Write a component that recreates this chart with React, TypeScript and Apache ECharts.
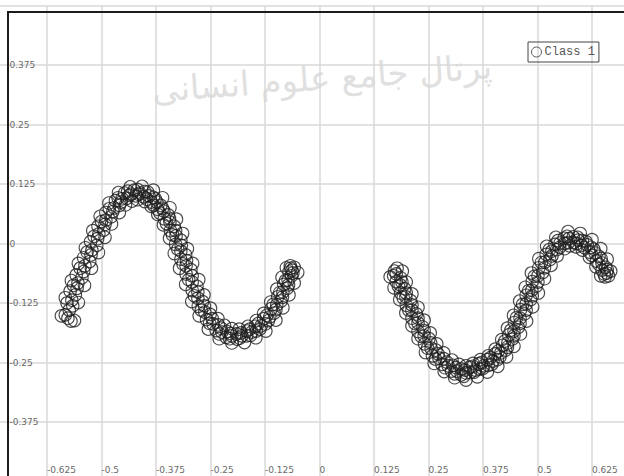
import React, { useEffect, useRef } from "react";
import * as echarts from "echarts";

// Class 1 points, left wave (x, y)
const classOneLeft: number[][] = [
  [-0.577, -0.157], [-0.583, -0.150], [-0.570, -0.163], [-0.574, -0.140], [-0.566, -0.131], [-0.579, -0.125],
  [-0.568, -0.119], [-0.560, -0.108], [-0.572, -0.100], [-0.556, -0.094], [-0.564, -0.088],
  [-0.554, -0.083], [-0.545, -0.072], [-0.558, -0.066], [-0.541, -0.059], [-0.549, -0.052],
  [-0.538, -0.047], [-0.527, -0.038], [-0.541, -0.030], [-0.524, -0.024], [-0.533, -0.018],
  [-0.522, -0.014], [-0.511, -0.004], [-0.525, 0.004], [-0.509, 0.010], [-0.517, 0.015],
  [-0.506, 0.020], [-0.495, 0.028], [-0.508, 0.036], [-0.492, 0.040], [-0.500, 0.046],
  [-0.490, 0.049], [-0.478, 0.056], [-0.490, 0.065], [-0.474, 0.067], [-0.482, 0.073],
  [-0.471, 0.075], [-0.459, 0.080], [-0.468, 0.090], [-0.455, 0.087], [-0.462, 0.096],
  [-0.453, 0.094], [-0.442, 0.095], [-0.447, 0.106], [-0.436, 0.101], [-0.440, 0.110],
  [-0.432, 0.104], [-0.421, 0.100], [-0.425, 0.112], [-0.414, 0.103], [-0.417, 0.113],
  [-0.412, 0.106], [-0.401, 0.109], [-0.403, 0.098], [-0.394, 0.108], [-0.396, 0.093],
  [-0.391, 0.100], [-0.381, 0.097], [-0.386, 0.087], [-0.377, 0.094], [-0.380, 0.080],
  [-0.373, 0.087], [-0.364, 0.080], [-0.372, 0.072], [-0.360, 0.074], [-0.366, 0.064],
  [-0.357, 0.068], [-0.347, 0.060], [-0.356, 0.052], [-0.344, 0.053], [-0.351, 0.042],
  [-0.343, 0.045], [-0.333, 0.036], [-0.342, 0.027], [-0.330, 0.027], [-0.337, 0.018],
  [-0.329, 0.016], [-0.318, 0.007], [-0.330, -0.002], [-0.317, -0.004], [-0.325, -0.012],
  [-0.318, -0.016], [-0.307, -0.024], [-0.318, -0.033], [-0.305, -0.036], [-0.313, -0.043],
  [-0.306, -0.047], [-0.295, -0.055], [-0.306, -0.064], [-0.292, -0.068], [-0.300, -0.076],
  [-0.292, -0.081], [-0.281, -0.090], [-0.292, -0.099], [-0.279, -0.102], [-0.287, -0.110],
  [-0.279, -0.115], [-0.268, -0.122], [-0.278, -0.132], [-0.264, -0.131], [-0.271, -0.140],
  [-0.263, -0.144], [-0.251, -0.149], [-0.259, -0.160], [-0.246, -0.158], [-0.252, -0.168],
  [-0.244, -0.169], [-0.232, -0.171], [-0.237, -0.183], [-0.226, -0.178], [-0.230, -0.190],
  [-0.224, -0.186], [-0.212, -0.185], [-0.214, -0.197], [-0.204, -0.189], [-0.206, -0.200],
  [-0.201, -0.194], [-0.190, -0.190], [-0.189, -0.201], [-0.180, -0.188], [-0.183, -0.199],
  [-0.178, -0.194], [-0.167, -0.194], [-0.166, -0.184], [-0.158, -0.193], [-0.160, -0.180],
  [-0.155, -0.186], [-0.145, -0.184], [-0.147, -0.174], [-0.137, -0.180], [-0.140, -0.168],
  [-0.134, -0.173], [-0.124, -0.169], [-0.128, -0.158], [-0.117, -0.162], [-0.121, -0.151],
  [-0.114, -0.154], [-0.104, -0.146], [-0.111, -0.137], [-0.100, -0.139], [-0.106, -0.128],
  [-0.098, -0.129], [-0.088, -0.121], [-0.096, -0.112], [-0.085, -0.113], [-0.091, -0.103],
  [-0.084, -0.102], [-0.074, -0.094], [-0.082, -0.086], [-0.071, -0.087], [-0.078, -0.078],
  [-0.072, -0.077], [-0.064, -0.068], [-0.070, -0.060], [-0.061, -0.062], [-0.066, -0.052],
  [-0.063, -0.056], [-0.058, -0.050], [-0.067, -0.047],
];

// outer edges of the left band
const classOneLeftEdges: number[][] = [
  [-0.562, -0.162], [-0.592, -0.152], [-0.553, -0.124], [-0.583, -0.114],
  [-0.539, -0.088], [-0.569, -0.078], [-0.523, -0.052], [-0.553, -0.042],
  [-0.507, -0.019], [-0.537, -0.009], [-0.492, 0.013], [-0.520, 0.027],
  [-0.477, 0.041], [-0.503, 0.057], [-0.459, 0.065], [-0.483, 0.085],
  [-0.445, 0.081], [-0.461, 0.107], [-0.430, 0.089], [-0.434, 0.119],
  [-0.417, 0.092], [-0.407, 0.120], [-0.401, 0.088], [-0.381, 0.112],
  [-0.386, 0.078], [-0.360, 0.096], [-0.371, 0.061], [-0.343, 0.075],
  [-0.358, 0.039], [-0.328, 0.051], [-0.344, 0.011], [-0.314, 0.021],
  [-0.333, -0.021], [-0.303, -0.011], [-0.321, -0.052], [-0.291, -0.042],
  [-0.307, -0.086], [-0.277, -0.076], [-0.293, -0.122], [-0.265, -0.108],
  [-0.276, -0.152], [-0.250, -0.136], [-0.255, -0.180], [-0.233, -0.158],
  [-0.230, -0.200], [-0.218, -0.172], [-0.201, -0.209], [-0.201, -0.179],
  [-0.172, -0.208], [-0.184, -0.180], [-0.146, -0.198], [-0.164, -0.174],
  [-0.123, -0.184], [-0.145, -0.162], [-0.100, -0.161], [-0.128, -0.147],
  [-0.084, -0.135], [-0.112, -0.123], [-0.070, -0.108], [-0.098, -0.096],
  [-0.058, -0.083], [-0.086, -0.071], [-0.050, -0.061], [-0.076, -0.051],
];

// Class 1 points, right wave (x, y)
const classOneRight: number[][] = [
  [0.172, -0.058], [0.178, -0.052], [0.170, -0.068],
  [0.176, -0.064], [0.186, -0.072], [0.176, -0.080], [0.189, -0.081], [0.181, -0.090],
  [0.185, -0.087], [0.195, -0.095], [0.186, -0.104], [0.199, -0.104], [0.192, -0.114],
  [0.198, -0.112], [0.209, -0.120], [0.199, -0.130], [0.212, -0.129], [0.205, -0.140],
  [0.212, -0.140], [0.222, -0.148], [0.212, -0.157], [0.226, -0.157], [0.219, -0.168],
  [0.226, -0.167], [0.236, -0.175], [0.226, -0.185], [0.240, -0.183], [0.233, -0.195],
  [0.240, -0.194], [0.251, -0.200], [0.241, -0.211], [0.255, -0.209], [0.248, -0.220],
  [0.256, -0.220], [0.267, -0.224], [0.259, -0.236], [0.272, -0.232], [0.266, -0.243],
  [0.274, -0.241], [0.285, -0.242], [0.281, -0.254], [0.292, -0.249], [0.288, -0.261],
  [0.295, -0.257], [0.306, -0.256], [0.303, -0.268], [0.313, -0.261], [0.310, -0.274],
  [0.315, -0.268], [0.326, -0.264], [0.325, -0.276], [0.334, -0.266], [0.331, -0.279],
  [0.336, -0.272], [0.346, -0.271], [0.345, -0.260], [0.355, -0.270], [0.352, -0.258],
  [0.357, -0.266], [0.367, -0.264], [0.365, -0.253], [0.374, -0.263], [0.372, -0.250],
  [0.377, -0.257], [0.387, -0.256], [0.385, -0.244], [0.395, -0.254], [0.392, -0.240],
  [0.398, -0.247], [0.408, -0.244], [0.403, -0.232], [0.414, -0.238], [0.410, -0.226],
  [0.416, -0.230], [0.427, -0.224], [0.420, -0.214], [0.431, -0.218], [0.425, -0.205],
  [0.432, -0.209], [0.442, -0.201], [0.434, -0.192], [0.446, -0.194], [0.439, -0.182],
  [0.446, -0.184], [0.456, -0.176], [0.447, -0.166], [0.460, -0.168], [0.452, -0.156],
  [0.460, -0.157], [0.470, -0.148], [0.461, -0.139], [0.474, -0.140], [0.466, -0.128],
  [0.474, -0.127], [0.484, -0.118], [0.474, -0.109], [0.488, -0.110], [0.480, -0.099],
  [0.487, -0.098], [0.497, -0.090], [0.488, -0.080], [0.501, -0.081], [0.493, -0.069],
  [0.501, -0.068], [0.512, -0.061], [0.503, -0.051], [0.516, -0.051], [0.509, -0.040],
  [0.517, -0.039], [0.528, -0.034], [0.520, -0.023], [0.533, -0.026], [0.527, -0.013],
  [0.533, -0.016], [0.544, -0.013], [0.540, -0.002], [0.551, -0.008], [0.547, 0.006],
  [0.552, 0.001], [0.562, 0.000], [0.561, 0.011], [0.571, 0.002], [0.568, 0.015],
  [0.572, 0.010], [0.582, 0.014], [0.583, 0.002], [0.592, 0.013], [0.590, 0.000],
  [0.593, 0.007], [0.603, 0.006], [0.601, -0.004], [0.611, 0.004], [0.608, -0.009],
  [0.614, -0.003], [0.623, -0.008], [0.619, -0.018], [0.629, -0.012], [0.625, -0.025],
  [0.632, -0.020], [0.641, -0.027], [0.635, -0.037], [0.646, -0.032], [0.641, -0.044],
  [0.648, -0.041], [0.656, -0.050], [0.648, -0.056], [0.660, -0.055], [0.653, -0.064],
  [0.659, -0.062], [0.663, -0.068], [0.655, -0.070],
];

// outer edges of the right band
const classOneRightEdges: number[][] = [
  [0.162, -0.070], [0.190, -0.058], [0.171, -0.093], [0.199, -0.081],
  [0.184, -0.118], [0.212, -0.106], [0.198, -0.146], [0.226, -0.134],
  [0.212, -0.173], [0.240, -0.161], [0.226, -0.200], [0.254, -0.188],
  [0.243, -0.229], [0.269, -0.211], [0.263, -0.252], [0.285, -0.230],
  [0.286, -0.269], [0.304, -0.245], [0.310, -0.282], [0.320, -0.254],
  [0.336, -0.287], [0.336, -0.257], [0.362, -0.280], [0.352, -0.252],
  [0.385, -0.270], [0.369, -0.244], [0.409, -0.258], [0.387, -0.236],
  [0.429, -0.238], [0.403, -0.222], [0.446, -0.216], [0.418, -0.202],
  [0.461, -0.190], [0.431, -0.178], [0.475, -0.163], [0.445, -0.151],
  [0.489, -0.133], [0.459, -0.121], [0.502, -0.104], [0.472, -0.092],
  [0.516, -0.074], [0.486, -0.062], [0.531, -0.046], [0.503, -0.032],
  [0.545, -0.026], [0.521, -0.006], [0.562, -0.011], [0.542, 0.013],
  [0.574, -0.005], [0.570, 0.025], [0.588, -0.007], [0.598, 0.021],
  [0.603, -0.014], [0.625, 0.008], [0.619, -0.029], [0.645, -0.011],
  [0.634, -0.049], [0.660, -0.033], [0.645, -0.068], [0.668, -0.058],
];

const seriesName = "Class 1";
const watermarkText = "پرتال جامع علوم انسانی";

const xMin = -0.75;
const xMax = 0.75;
const yMin = -0.5;
const yMax = 0.5;
const tickStep = 0.125;

export default function App() {
  const ref = useRef<HTMLDivElement>(null);

  useEffect(() => {
    if (!ref.current) return;
    const chart = echarts.init(ref.current, null, { renderer: "svg" });
    const labelStyle = {
      color: "#6a6a6a",
      fontSize: 9,
      fontFamily: "DejaVu Sans",
    };
    chart.setOption({
      animation: false,
      backgroundColor: "#ffffff",
      grid: {
        left: -7.5,
        top: 5.5,
        width: 654,
        height: 476,
        outerBoundsMode: "none",
        containLabel: false,
      },
      xAxis: {
        type: "value",
        min: xMin,
        max: xMax,
        interval: tickStep,
        axisLine: { show: false },
        axisTick: { show: false },
        splitLine: { show: true, lineStyle: { color: "#d9d9d9", width: 1.5 } },
        axisLabel: {
          ...labelStyle,
          inside: true,
          align: "left",
          margin: 7,
          showMinLabel: false,
          showMaxLabel: false,
        },
      },
      yAxis: {
        type: "value",
        min: yMin,
        max: yMax,
        interval: tickStep,
        axisLine: { show: false },
        axisTick: { show: false },
        splitLine: { show: true, lineStyle: { color: "#d9d9d9", width: 1.5 } },
        axisLabel: {
          ...labelStyle,
          inside: true,
          margin: 17,
          showMinLabel: false,
          showMaxLabel: false,
        },
      },
      legend: {
        left: 528,
        top: 42,
        orient: "horizontal",
        padding: [4, 4, 4, 3],
        borderColor: "#444",
        borderWidth: 1,
        itemWidth: 10,
        itemHeight: 10,
        itemGap: 2,
        data: [
          {
            name: seriesName,
            icon: "circle",
            itemStyle: { color: "rgba(0,0,0,0)", borderColor: "#333", borderWidth: 1 },
          },
        ],
        textStyle: {
          fontFamily: "Liberation Mono",
          fontSize: 12,
          color: "#555",
          padding: [0, 0, 0, -2],
        },
      },
      graphic: [
        {
          type: "text",
          x: 322,
          y: 78,
          rotation: 0.07,
          silent: true,
          z: 0,
          style: {
            text: watermarkText,
            fontFamily: "DejaVu Sans",
            fontSize: 34,
            fill: "#e0e0e0",
            align: "center",
            verticalAlign: "middle",
          },
        },
        {
          type: "line",
          silent: true,
          z: 10,
          shape: { x1: 8, y1: 12, x2: 8, y2: 476 },
          style: { stroke: "#1c1c1c", lineWidth: 2 },
        },
        {
          type: "line",
          silent: true,
          z: 10,
          shape: { x1: 7, y1: 12, x2: 624, y2: 12 },
          style: { stroke: "#1c1c1c", lineWidth: 2 },
        },
      ],
      series: [
        {
          name: seriesName,
          type: "scatter",
          symbol: "circle",
          symbolSize: 12.5,
          itemStyle: {
            color: "rgba(0,0,0,0)",
            borderColor: "#1e1e1e",
            borderWidth: 1.1,
          },
          data: [
            ...classOneLeft,
            ...classOneLeftEdges,
            ...classOneRight,
            ...classOneRightEdges,
          ],
        },
      ],
    });
    return () => chart.dispose();
  }, []);

  return (
    <div
      ref={ref}
      style={{ position: "fixed", left: 0, top: 0, width: 624, height: 476 }}
    />
  );
}
